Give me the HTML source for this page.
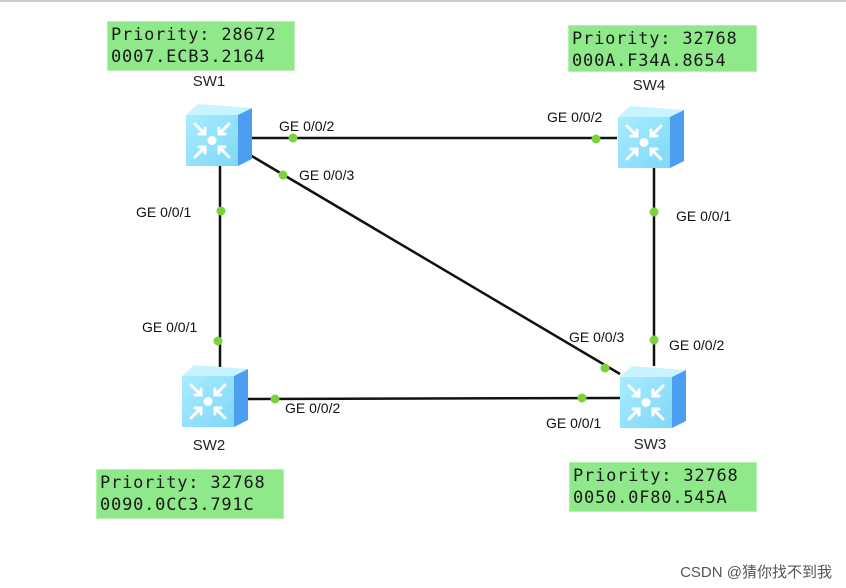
<!DOCTYPE html>
<html><head><meta charset="utf-8"><style>
body{margin:0;background:#fff;width:846px;height:588px;overflow:hidden;position:relative;font-family:"Liberation Sans",sans-serif}
.box{position:absolute;background:#8fe88a;border:1px solid #b8f0b0;font-family:"DejaVu Sans Mono","Liberation Mono",monospace;font-size:17px;line-height:22px;color:#1a1a1a;padding:2px 0 0 3px;box-sizing:border-box;letter-spacing:0.8px;white-space:nowrap}
</style></head><body>
<div style="position:absolute;left:0;top:0;width:846px;height:2px;background:#c8ccd4"></div>
<svg width="846" height="588" style="position:absolute;left:0;top:0" font-family="Liberation Sans, sans-serif">
<defs>
<linearGradient id="f" x1="0" y1="0" x2="1" y2="1"><stop offset="0" stop-color="#a8ecff"/><stop offset="1" stop-color="#7fd8f8"/></linearGradient>
<g id="sw">
<polygon points="0,11 12,0 66,4 52,11" fill="#c8f4ff"/>
<polygon points="52,11 66,4 66,55 52,62" fill="#4d9ef0"/>
<rect x="0" y="11" width="52" height="51" fill="url(#f)"/>
<g stroke="#fff" stroke-width="3" fill="none" stroke-linecap="round">
<path d="M9,20 L19,30 M19,24 L19,30 L13,30"/>
<path d="M43,20 L33,30 M33,24 L33,30 L39,30"/>
<path d="M9,53 L19,43 M13,43 L19,43 L19,49"/>
<path d="M43,53 L33,43 M39,43 L33,43 L33,49"/>
</g>
<circle cx="26" cy="36.5" r="4.5" fill="#fff"/>
</g>
</defs>
<g stroke="#111" stroke-width="2.5">
<line x1="250" y1="138" x2="617" y2="138"/>
<line x1="220" y1="160" x2="220" y2="367"/>
<line x1="654" y1="166" x2="654" y2="366"/>
<line x1="248" y1="399" x2="620" y2="398"/>
<line x1="250" y1="155" x2="620" y2="374"/>
</g>
<use href="#sw" x="186" y="104"/>
<use href="#sw" x="618" y="106"/>
<use href="#sw" x="182" y="365"/>
<use href="#sw" x="620" y="366"/>
<g fill="#7dd13a">
<circle cx="293" cy="138" r="4.5"/><circle cx="596" cy="139" r="4.5"/>
<circle cx="221" cy="211" r="4.5"/><circle cx="218" cy="341" r="4.5"/>
<circle cx="283" cy="175" r="4.5"/><circle cx="605" cy="368" r="4.5"/>
<circle cx="654" cy="212" r="4.5"/><circle cx="654" cy="340" r="4.5"/>
<circle cx="275" cy="399" r="4.5"/><circle cx="582" cy="398" r="4.5"/>
</g>
<g font-size="14" fill="#111">
<text x="279" y="131">GE 0/0/2</text>
<text x="547" y="122">GE 0/0/2</text>
<text x="299" y="180">GE 0/0/3</text>
<text x="136" y="217">GE 0/0/1</text>
<text x="142" y="332">GE 0/0/1</text>
<text x="676" y="221">GE 0/0/1</text>
<text x="569" y="342">GE 0/0/3</text>
<text x="669" y="350">GE 0/0/2</text>
<text x="285" y="413">GE 0/0/2</text>
<text x="546" y="428">GE 0/0/1</text>
</g>
<g font-size="15" fill="#222" text-anchor="middle">
<text x="209" y="86">SW1</text>
<text x="649" y="90">SW4</text>
<text x="209" y="450">SW2</text>
<text x="650" y="449">SW3</text>
</g>
<text x="832" y="577" font-size="15" fill="#555" text-anchor="end" font-family="Liberation Sans, Noto Sans CJK SC, sans-serif">CSDN @猜你找不到我</text>
</svg>
<div class="box" style="left:107px;top:21px;width:188px;height:50px">Priority: 28672<br>0007.ECB3.2164</div>
<div class="box" style="left:568px;top:25px;width:189px;height:47px">Priority: 32768<br>000A.F34A.8654</div>
<div class="box" style="left:96px;top:469px;width:188px;height:50px">Priority: 32768<br>0090.0CC3.791C</div>
<div class="box" style="left:569px;top:462px;width:188px;height:50px">Priority: 32768<br>0050.0F80.545A</div>
</body></html>
